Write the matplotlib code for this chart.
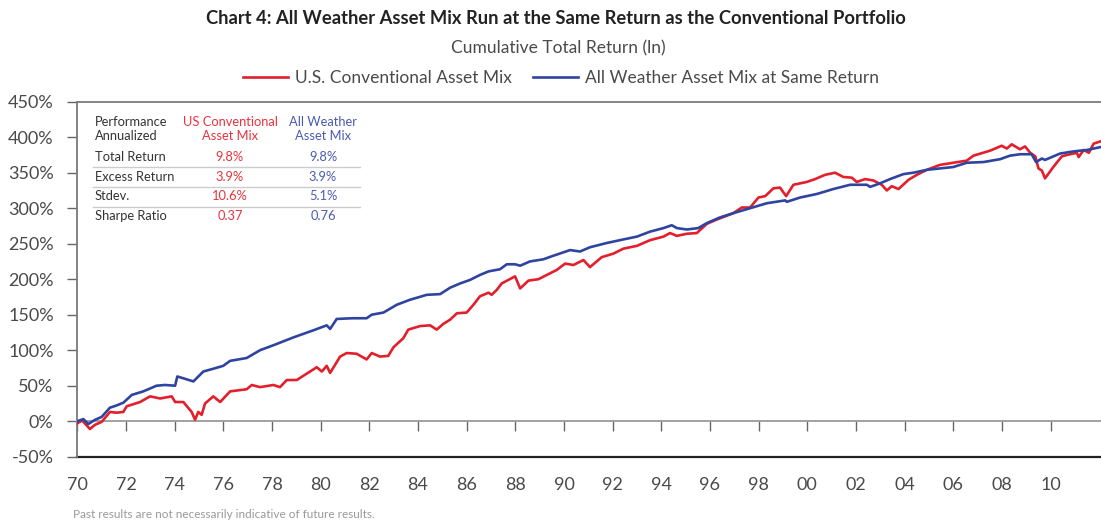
import matplotlib
matplotlib.use("Agg")
import matplotlib.pyplot as plt

# data (year, cumulative total return in %)
red_years = [1970.0, 1970.2, 1970.52, 1970.73, 1971.0, 1971.34, 1971.62, 1971.89, 1972.03, 1972.58,
             1972.99, 1973.4, 1973.88, 1974.02, 1974.36, 1974.7, 1974.84, 1974.97, 1975.11, 1975.25,
             1975.59, 1975.87, 1976.28, 1976.96, 1977.17, 1977.51, 1978.06, 1978.33, 1978.61, 1979.02,
             1979.43, 1979.84, 1980.05, 1980.25, 1980.39, 1980.8, 1981.07, 1981.48, 1981.89, 1982.1,
             1982.44, 1982.78, 1982.99, 1983.4, 1983.6, 1984.09, 1984.5, 1984.77, 1985.04, 1985.32,
             1985.6, 1986.0, 1986.28, 1986.55, 1986.9, 1987.03, 1987.24, 1987.44, 1987.99, 1988.2,
             1988.54, 1988.95, 1989.3, 1989.7, 1990.05, 1990.39, 1990.8, 1991.07, 1991.55, 1992.03,
             1992.44, 1993.0, 1993.54, 1994.09, 1994.36, 1994.64, 1995.05, 1995.46, 1995.87, 1996.28,
             1996.96, 1997.31, 1997.65, 1997.99, 1998.27, 1998.61, 1998.88, 1999.13, 1999.43, 1999.98,
             2000.32, 2000.73, 2001.14, 2001.48, 2001.83, 2002.03, 2002.38, 2002.72, 2003.06, 2003.27,
             2003.47, 2003.75, 2004.16, 2004.5, 2004.91, 2005.45, 2006.0, 2006.55, 2006.83, 2007.51,
             2007.99, 2008.2, 2008.4, 2008.74, 2008.95, 2009.16, 2009.37, 2009.5, 2009.64, 2009.77,
             2010.11, 2010.46, 2010.67, 2011.08, 2011.15, 2011.36, 2011.57, 2011.77, 2012.04]
red_vals = [-3, 1, -11, -5, -1, 13, 12, 13, 21, 27,
            35, 32, 35, 27, 27, 13, 2, 13, 9, 25,
            35, 27, 42, 45, 51, 48, 51, 48, 58, 58,
            67, 76, 70, 78, 68, 91, 96, 95, 87, 96,
            91, 92, 104, 117, 129, 134, 135, 129, 137, 143,
            152, 153, 164, 176, 181, 178, 185, 194, 204, 187,
            198, 200, 206, 213, 222, 220, 227, 217, 231, 236,
            243, 247, 255, 260, 265, 261, 264, 265, 278, 284,
            293, 301, 301, 315, 317, 328, 329, 317, 333, 337,
            341, 347, 350, 344, 343, 337, 341, 339, 333, 325,
            331, 327, 340, 347, 354, 361, 364, 367, 374, 381,
            388, 384, 390, 383, 387, 378, 373, 356, 353, 342,
            358, 373, 375, 378, 372, 382, 378, 391, 394]

blue_years = [1970.0, 1970.25, 1970.45, 1970.73, 1971.0, 1971.34, 1971.6, 1971.89, 1972.24, 1972.71,
              1973.26, 1973.6, 1974.02, 1974.11, 1974.4, 1974.77, 1975.18, 1975.6, 1976.0, 1976.28,
              1976.96, 1977.51, 1978.06, 1978.88, 1979.7, 1980.25, 1980.39, 1980.66, 1981.3, 1981.89,
              1982.1, 1982.58, 1983.13, 1983.67, 1984.36, 1984.91, 1985.32, 1985.73, 1986.14, 1986.55,
              1986.9, 1987.37, 1987.65, 1987.99, 1988.2, 1988.6, 1989.15, 1989.56, 1990.25, 1990.66,
              1991.07, 1991.76, 1992.44, 1993.0, 1993.54, 1994.09, 1994.43, 1994.64, 1995.05, 1995.52,
              1995.87, 1996.41, 1996.96, 1997.65, 1998.34, 1999.09, 1999.16, 1999.7, 2000.39, 2001.07,
              2001.76, 2002.45, 2002.58, 2002.99, 2003.4, 2003.95, 2004.36, 2004.91, 2005.45, 2006.0,
              2006.55, 2007.24, 2007.92, 2008.33, 2008.74, 2009.22, 2009.4, 2009.64, 2009.77, 2010.39,
              2010.94, 2011.49, 2012.04]
blue_vals = [0, 3, -4, 2, 6, 19, 22, 26, 37, 42,
             50, 51, 50, 63, 60, 56, 70, 74, 78, 85,
             89, 100, 107, 118, 128, 135, 130, 144, 145, 145,
             150, 153, 164, 171, 178, 179, 188, 194, 199, 206,
             211, 214, 221, 221, 219, 225, 228, 233, 241, 239,
             245, 251, 256, 260, 267, 272, 276, 272, 270, 272,
             279, 287, 293, 300, 307, 311, 309, 315, 320, 327,
             333, 333, 330, 335, 341, 348, 350, 354, 356, 358,
             364, 365, 369, 374, 376, 376, 365, 370, 368, 377,
             380, 382, 386]

tick_years = list(range(1970, 2011, 2))
y_ticks = list(range(-50, 451, 50))

table_header = ["Performance\nAnnualized", "US Conventional\nAsset Mix", "All Weather\nAsset Mix"]
table_rows = ["Total Return", "Excess Return", "Stdev.", "Sharpe Ratio"]
table_conv = ["9.8%", "3.9%", "10.6%", "0.37"]
table_aw = ["9.8%", "3.9%", "5.1%", "0.76"]

RED = "#E21F2B"
BLUE = "#2F44A0"
RED_TXT = "#E8333C"
BLUE_TXT = "#4A5BB2"
GREY = "#7a7a7a"
TXT = "#4a4a4a"

plt.rcParams['font.family'] = ['Lato', 'DejaVu Sans']

W, H = 1101, 522
fig = plt.figure(figsize=(W / 100, H / 100), dpi=100)
ax = fig.add_axes([77.3 / W, 1 - 456.7 / H, (W - 77.3) / W, 355 / H])

ax.plot(red_years, red_vals, color=RED, lw=1.9, label="U.S. Conventional Asset Mix", zorder=3)
ax.plot(blue_years, blue_vals, color=BLUE, lw=1.9, label="All Weather Asset Mix at Same Return", zorder=3)

ax.set_xlim(1970, 2012.07)
ax.set_ylim(-50, 450)

# bottom spine sits on the 0% line, black line at -50%
ax.spines['bottom'].set_position(('data', 0))
ax.spines['bottom'].set_color('#9a9a9a')
ax.spines['bottom'].set_linewidth(1.3)
ax.spines['left'].set_color(GREY)
ax.spines['left'].set_linewidth(1.3)
ax.spines['top'].set_color(GREY)
ax.spines['top'].set_linewidth(1.3)
ax.spines['right'].set_visible(False)
ax.axhline(-50, color='#222222', lw=1.6, clip_on=False)

ax.set_xticks(tick_years)
ax.set_xticklabels([f"{y % 100:02d}" for y in tick_years])
ax.tick_params(axis='x', direction='out', length=7, width=1, color='#666666',
               pad=33, labelsize=13, labelcolor=TXT)
ax.set_yticks(y_ticks)
ax.set_yticklabels([f"{v}%" for v in y_ticks])
ax.tick_params(axis='y', direction='out', length=7, width=1, color='#666666',
               pad=10, labelsize=13, labelcolor=TXT)

# performance table
def fx(px):
    return (px - 77.3) / (W - 77.3)

def fy(py):
    return (456.7 - py) / 355

tkw = dict(transform=ax.transAxes, fontsize=9.3, va='center')
ax.text(fx(95), fy(129), table_header[0], ha='left', color='#333333', linespacing=1.2, **tkw)
ax.text(fx(230), fy(129), table_header[1], ha='center', color=RED_TXT, linespacing=1.2, **tkw)
ax.text(fx(323), fy(129), table_header[2], ha='center', color=BLUE_TXT, linespacing=1.2, **tkw)
row_y = [157, 177, 196, 216]
for i, name in enumerate(table_rows):
    ax.text(fx(95), fy(row_y[i]), name, ha='left', color='#333333', **tkw)
    ax.text(fx(230), fy(row_y[i]), table_conv[i], ha='center', color=RED_TXT, **tkw)
    ax.text(fx(323), fy(row_y[i]), table_aw[i], ha='center', color=BLUE_TXT, **tkw)
for sy in [166.7, 187.3, 207.3]:
    ax.plot([fx(93), fx(360)], [fy(sy), fy(sy)], transform=ax.transAxes,
            color='#cccccc', lw=1, zorder=2)

fig.text(0.5 + 5 / W, 1 - 18 / H, "Chart 4: All Weather Asset Mix Run at the Same Return as the Conventional Portfolio",
         ha='center', va='center', fontsize=13.2, fontweight='bold', color='#222222')
fig.text(558 / W, 1 - 48 / H, "Cumulative Total Return (ln)", ha='center', va='center',
         fontsize=12.5, color=TXT)
fig.legend(loc='center', bbox_to_anchor=(561 / W, 1 - 78 / H), ncol=2, frameon=False,
           fontsize=12.5, handlelength=2.6, handletextpad=0.4, columnspacing=1.2,
           labelcolor=TXT)
fig.text(73 / W, 1 - 515 / H, "Past results are not necessarily indicative of future results.",
         ha='left', va='center', fontsize=8.5, color='#999999')

fig.savefig("out.png", dpi=100)
